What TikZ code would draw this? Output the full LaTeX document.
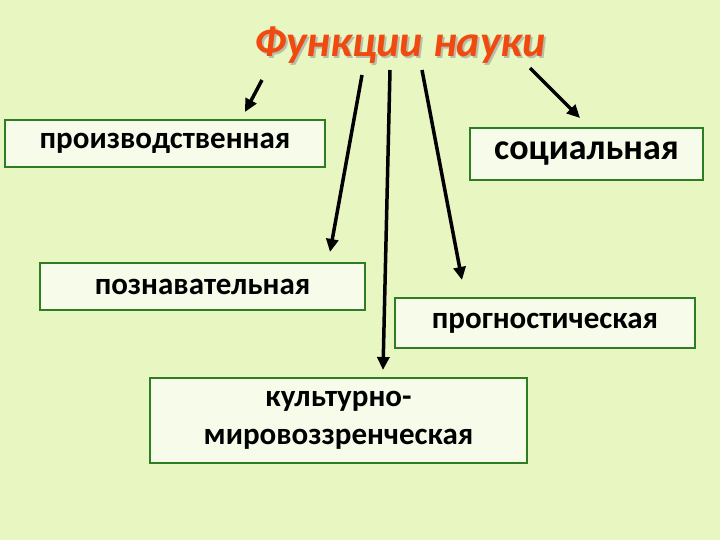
\documentclass[tikz,border=0pt]{standalone}
\usepackage{fontspec}
\setmainfont{Carlito}
\usetikzlibrary{arrows.meta}
\definecolor{bg}{HTML}{E8F6C2}
\definecolor{bx}{HTML}{2E7D22}
\definecolor{fillc}{HTML}{F6FBEA}
\definecolor{ttl}{HTML}{F04A10}
\newcommand{\lowr}[1]{\raisebox{-5pt}{#1}}
\tikzset{
  box/.style={draw=bx,line width=1.5pt,fill=fillc,inner sep=0pt},
  arr/.style={line width=3.5pt,-{Triangle[length=13pt,width=12pt]}}
}
\begin{document}
\begin{tikzpicture}[x=1pt,y=-1pt]
\fill[bg] (0,0) rectangle (720,540);
\useasboundingbox (0,0) rectangle (720,540);
\node[font=\bfseries\itshape\fontsize{44}{50}\selectfont,text=black!40,opacity=0.6] at (402,47) {Функции науки};
\node (t) [font=\bfseries\itshape\fontsize{44}{50}\selectfont,text=ttl] at (400,45) {Функции науки};
\node (p) [box,minimum width=320pt,minimum height=47pt,font=\bfseries\fontsize{31}{34}\selectfont] at (165,143.5) {\lowr{производственная}};
\node (s) [box,minimum width=233pt,minimum height=52pt,font=\bfseries\fontsize{36}{40}\selectfont] at (586.5,154) {\lowr{социальная}};
\node (z) [box,minimum width=325pt,minimum height=47pt,font=\bfseries\fontsize{31}{34}\selectfont] at (202.5,286.5) {\lowr{познавательная}};
\node (g) [box,minimum width=300pt,minimum height=50pt,font=\bfseries\fontsize{31}{34}\selectfont] at (545,323) {\lowr{прогностическая}};
\node (k) [box,minimum width=377pt,minimum height=85pt,align=center,font=\bfseries\fontsize{31}{38}\selectfont] at (338.5,420.5) {культурно-\\мировоззренческая};
\coordinate (a1) at (262,80);
\coordinate (a2) at (362,75);
\coordinate (a3) at (390,70);
\coordinate (a4) at (422,70);
\coordinate (a5) at (530,68);
\draw[arr] (a1) -- (245,112);
\draw[arr] (a2) -- (330,252);
\draw[arr] (a3) -- (383,370);
\draw[arr] (a4) -- (462,280);
\draw[arr] (a5) -- (580,118);
\end{tikzpicture}
\end{document}
